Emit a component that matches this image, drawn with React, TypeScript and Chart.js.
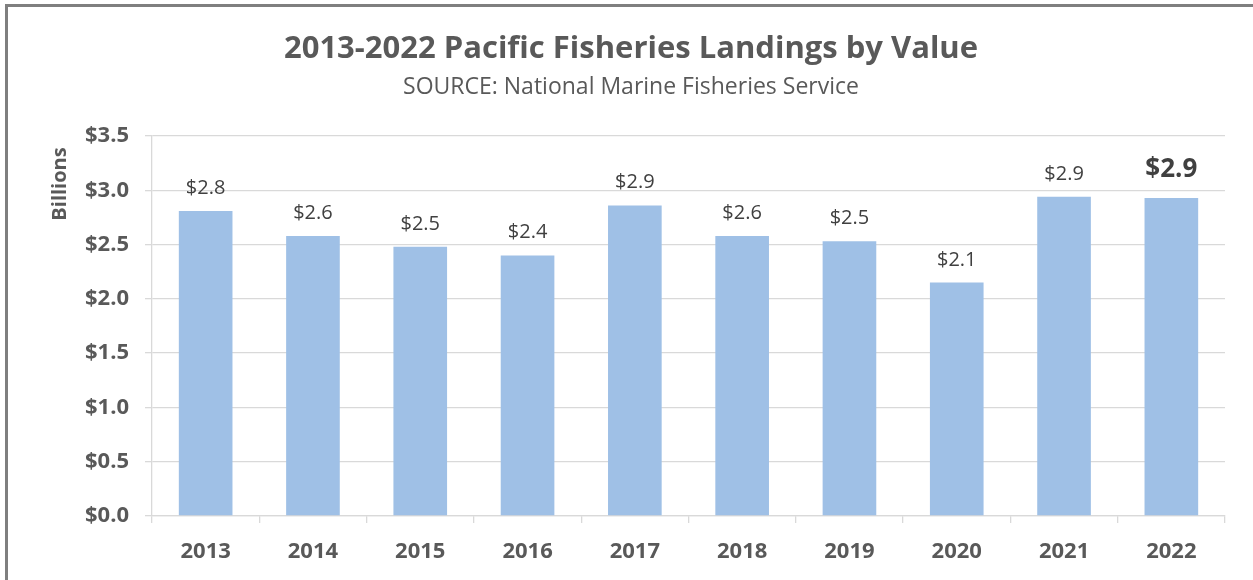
import React, { useEffect, useRef } from "react";
import { Chart, registerables } from "chart.js";

Chart.register(...registerables);

const categories: string[] = ["2013", "2014", "2015", "2016", "2017", "2018", "2019", "2020", "2021", "2022"];
const landingsValue: number[] = [2.81, 2.58, 2.48, 2.40, 2.86, 2.58, 2.53, 2.15, 2.94, 2.93];
const chartTitle = "2013-2022 Pacific Fisheries Landings by Value";
const chartSubtitle = "SOURCE: National Marine Fisheries Service";
const yAxisTitle = "Billions";

const FONT = '"Open Sans", "Noto Sans", sans-serif';
const GREY = "#595959";
const DARK = "#404040";

const decorPlugin = {
  id: "decor",
  afterDraw(chart: any) {
    const ctx = chart.ctx as CanvasRenderingContext2D;
    ctx.save();
    // outer frame
    ctx.strokeStyle = "#7f7f7f";
    ctx.lineWidth = 3;
    ctx.beginPath();
    ctx.moveTo(6.5, 600);
    ctx.lineTo(6.5, 5.5);
    ctx.lineTo(1300, 5.5);
    ctx.stroke();

    // title + subtitle
    ctx.fillStyle = GREY;
    ctx.textAlign = "center";
    ctx.textBaseline = "middle";
    ctx.font = `bold 31px ${FONT}`;
    ctx.fillText(chartTitle, 631, 49);
    ctx.font = `23px ${FONT}`;
    ctx.fillText(chartSubtitle, 631, 87);

    // y axis title
    ctx.save();
    ctx.translate(60, 184);
    ctx.rotate(-Math.PI / 2);
    ctx.font = `bold 20px ${FONT}`;
    ctx.fillText(yAxisTitle, 0, 0);
    ctx.restore();

    // data labels
    const meta = chart.getDatasetMeta(0);
    const data = chart.data.datasets[0].data as number[];
    ctx.textAlign = "center";
    ctx.textBaseline = "alphabetic";
    meta.data.forEach((bar: any, i: number) => {
      const last = i === data.length - 1;
      ctx.fillStyle = DARK;
      ctx.font = last ? `bold 26px ${FONT}` : `20px ${FONT}`;
      ctx.fillText("$" + data[i].toFixed(1), bar.x, bar.y - (last ? 21 : 17));
    });
    ctx.restore();
  },
};

export default function App() {
  const ref = useRef<HTMLCanvasElement | null>(null);
  useEffect(() => {
    if (!ref.current) return;
    const chart = new Chart(ref.current, {
      type: "bar",
      data: {
        labels: categories,
        datasets: [
          {
            data: landingsValue,
            backgroundColor: "#9fc0e6",
            borderWidth: 0,
            barPercentage: 0.5,
            categoryPercentage: 1,
          },
        ],
      },
      options: {
        responsive: false,
        animation: false,
        devicePixelRatio: 1,
        layout: { padding: { top: 136, left: 0, right: 28, bottom: 0 } },
        plugins: {
          legend: { display: false },
          tooltip: { enabled: false },
          title: { display: false },
        },
        scales: {
          y: {
            min: 0,
            max: 3.5,
            ticks: {
              stepSize: 0.5,
              padding: 16,
              color: GREY,
              font: { family: FONT, size: 22, weight: "bold" },
              callback: (v: any) => "$" + Number(v).toFixed(1),
            },
            grid: { color: "#d9d9d9", lineWidth: 1.3, tickLength: 7 },
            border: { color: "#d9d9d9", width: 1.3 },
            afterFit: (s: any) => {
              s.width = 152;
            },
          },
          x: {
            offset: true,
            ticks: {
              padding: 16,
              color: GREY,
              font: { family: FONT, size: 22, weight: "bold" },
            },
            grid: { display: true, drawOnChartArea: false, offset: true, color: "#d9d9d9", lineWidth: 1.3, tickLength: 7 },
            border: { color: "#d9d9d9", width: 1.3 },
            afterFit: (s: any) => {
              s.height = 64;
            },
          },
        },
      },
      plugins: [decorPlugin],
    });
    return () => chart.destroy();
  }, []);
  return (
    <div style={{ position: "absolute", left: 0, top: 0, width: 1253, height: 580, background: "#fff" }}>
      <canvas ref={ref} width={1253} height={580} style={{ display: "block" }} />
    </div>
  );
}
